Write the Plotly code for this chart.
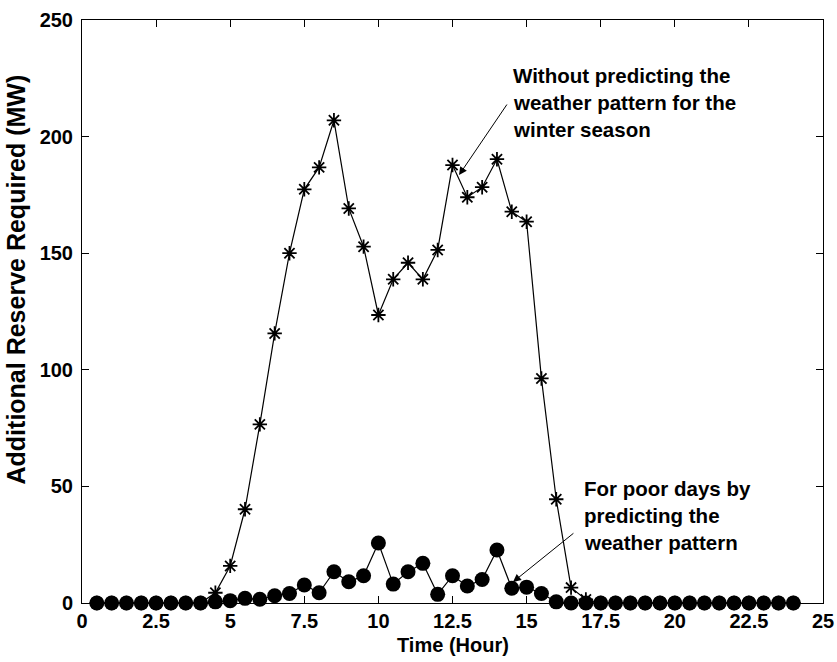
import plotly.graph_objects as go

hours = [0.5 * i for i in range(1, 49)]
without_pred = [0, 0, 0, 0, 0, 0, 0, 0, 4.4, 15.9, 40.2, 76.6, 115.6, 150, 177.4, 186.8,
                207, 169.2, 152.8, 123.5, 138.8, 145.9, 138.8, 151.4, 187.8, 174, 178.3, 190.3,
                167.8, 163.5, 96.3, 44.5, 6.6, 1.5, 0, 0, 0, 0, 0, 0, 0, 0, 0, 0, 0, 0, 0, 0]
with_pred = [0, 0, 0, 0, 0, 0, 0, 0, 0.5, 1, 2, 1.6, 3.1, 4.1, 7.7, 4.4,
             13.4, 9.1, 11.7, 25.7, 8.1, 13.4, 17, 3.7, 11.7, 7.3, 10.1, 22.7,
             6.3, 6.8, 4.1, 0.5, 0, 0, 0, 0, 0, 0, 0, 0, 0, 0, 0, 0, 0, 0, 0, 0]
x_ticks = [0, 2.5, 5, 7.5, 10, 12.5, 15, 17.5, 20, 22.5, 25]
y_ticks = [0, 50, 100, 150, 200, 250]

FONT = "Liberation Sans"
fig = go.Figure()
fig.add_trace(go.Scatter(x=hours, y=with_pred, mode="lines+markers",
                         line=dict(color="black", width=1.2),
                         marker=dict(symbol="circle", size=15, color="black"),
                         cliponaxis=False, showlegend=False))
fig.add_trace(go.Scatter(x=hours, y=without_pred, mode="lines+markers",
                         line=dict(color="black", width=1.2),
                         marker=dict(symbol="asterisk-open", size=12,
                                     line=dict(color="black", width=1.8)),
                         cliponaxis=False, showlegend=False))

axis_common = dict(showline=True, linecolor="black", linewidth=1, mirror="ticks",
                   ticks="inside", ticklen=7, tickcolor="black", showgrid=False,
                   zeroline=False, automargin=False,
                   tickfont=dict(family=FONT, size=20, color="black"))
fig.update_xaxes(range=[0, 25], tickvals=x_ticks, ticktext=[f"<b>{v:g}</b>" for v in x_ticks],
                 ticklabelstandoff=0, **axis_common)
fig.update_yaxes(range=[0, 250], tickvals=y_ticks, ticktext=[f"<b>{v}</b>" for v in y_ticks],
                 ticklabelstandoff=4, **axis_common)

fig.update_layout(width=837, height=662, margin=dict(l=82, r=14, t=20, b=59),
                  paper_bgcolor="white", plot_bgcolor="white",
                  font=dict(family=FONT, color="black"))

def txt(s):
    return f"<b>{s}</b>"

ann = []
# axis titles
ann.append(dict(text=txt("Time (Hour)"), xref="paper", yref="paper", x=0.5, y=-0.072,
                xanchor="center", yanchor="middle", showarrow=False,
                font=dict(family=FONT, size=20)))
ann.append(dict(text=txt("Additional Reserve Required (MW)"), xref="paper", yref="paper",
                x=-0.089, y=0.555, xanchor="center", yanchor="middle", textangle=-90,
                showarrow=False, font=dict(family=FONT, size=25)))
# arrows
ann.append(dict(x=12.72, y=183.5, ax=14.37, ay=214.4, xref="x", yref="y", axref="x", ayref="y",
                text="", showarrow=True, arrowhead=2, arrowsize=1.6, arrowwidth=1, arrowcolor="black"))
ann.append(dict(x=14.54, y=9.0, ax=16.63, ay=30.4, xref="x", yref="y", axref="x", ayref="y",
                text="", showarrow=True, arrowhead=2, arrowsize=1.6, arrowwidth=1, arrowcolor="black"))
lines1 = ["Without predicting the", "weather pattern for the", "winter season"]
lines2 = ["For poor days by", "predicting the", "weather pattern"]
for i, s in enumerate(lines1):
    ann.append(dict(text=txt(s), xref="x", yref="y", x=14.47, y=(603 - (75 + 27 * i)) / 2.332,
                    xanchor="left", yanchor="middle", showarrow=False,
                    font=dict(family=FONT, size=20.5)))
for i, s in enumerate(lines2):
    ann.append(dict(text=txt(s), xref="x", yref="y", x=16.87, y=(603 - (488 + 27 * i)) / 2.332,
                    xanchor="left", yanchor="middle", showarrow=False,
                    font=dict(family=FONT, size=20.5)))
fig.update_layout(annotations=ann)
fig.write_html("out.html", config={"displayModeBar": False},
               post_script="document.body.style.margin='0px';document.body.style.padding='0px';")
